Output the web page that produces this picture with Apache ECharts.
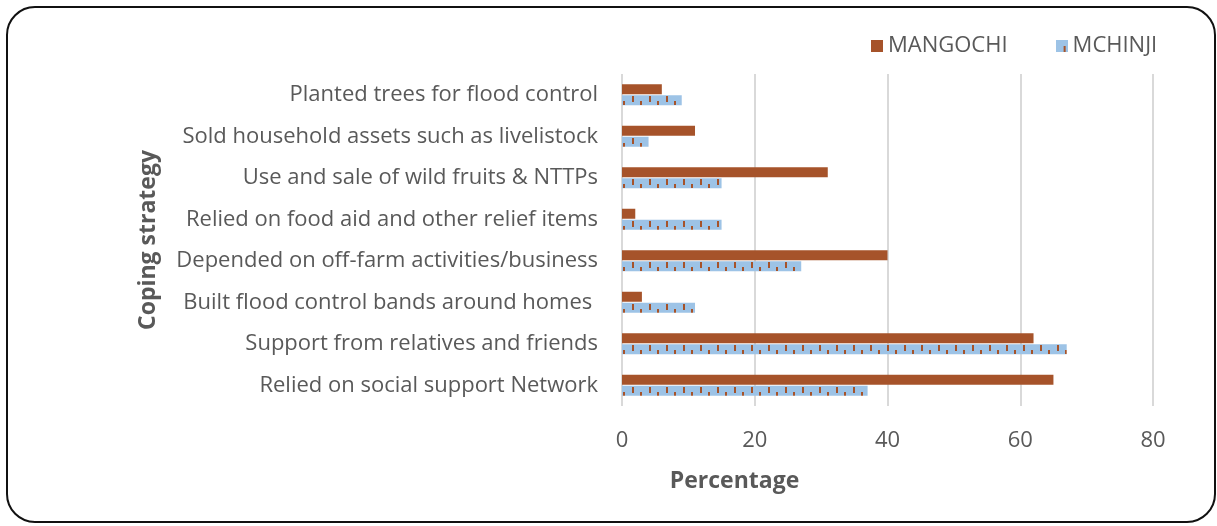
<!DOCTYPE html>
<html>
<head>
<meta charset="utf-8">
<script src="https://cdn.jsdelivr.net/npm/echarts@6/dist/echarts.min.js"></script>
<style>
  html, body { margin: 0; padding: 0; background: #ffffff; }
  #chart { width: 1217px; height: 526px; }
</style>
</head>
<body>
<div id="chart"></div>
<script>
// Coping strategies, listed top to bottom
const categories = [
  'Planted trees for flood control',
  'Sold household assets such as livelistock',
  'Use and sale of wild fruits & NTTPs',
  'Relied on food aid and other relief items',
  'Depended on off-farm activities/business',
  'Built flood control bands around homes ',
  'Support from relatives and friends',
  'Relied on social support Network'
];
const mangochi = [6, 11, 31, 2, 40, 3, 62, 65];
const mchinji = [9, 4, 15, 15, 27, 11, 67, 37];
const seriesNames = ['MANGOCHI', 'MCHINJI'];
const xTicks = { min: 0, max: 80, interval: 20 };

const BROWN = '#A6532A';
const BLUE = '#9DC3E6';
const TEXT = '#595959';
const FONT = '"Open Sans", "Noto Sans", sans-serif';

// Plot area geometry (8 rows of 41.5 px each)
const GRID_TOP = 74, ROW = 41.5, BAR_W = 10;

// Hatched fill for the MCHINJI bars: light blue with small brown dashes.
// The tile spans two rows so the dashes line up with every lower bar.
function makeHatch() {
  const c = document.createElement('canvas');
  c.width = 17; c.height = ROW * 2;
  const g = c.getContext('2d');
  g.fillStyle = BLUE;
  g.fillRect(0, 0, c.width, c.height);
  g.fillStyle = BROWN;
  for (let k = 0; k < 2; k++) {
    const center = GRID_TOP + ROW * (k + 0.5);
    const top = Math.round((center + 0.5) % c.height);
    g.fillRect(3, top + 1, 2, 6);
    g.fillRect(11, top + 6, 2, 4);
  }
  return c;
}
function makeLegendIcon() {
  const c = document.createElement('canvas');
  c.width = 12; c.height = 12;
  const g = c.getContext('2d');
  g.fillStyle = BLUE;
  g.fillRect(0, 0, 12, 12);
  g.fillStyle = BROWN;
  g.fillRect(8, 6, 2, 6);
  return c.toDataURL();
}

const chart = echarts.init(document.getElementById('chart'), null, { renderer: 'canvas' });
chart.setOption({
  backgroundColor: '#ffffff',
  animation: false,
  textStyle: { fontFamily: FONT },
  grid: { left: 622, right: 64, top: GRID_TOP, height: ROW * 8, containLabel: false },
  legend: {
    left: 866, top: 30,
    itemWidth: 12, itemHeight: 12, itemGap: 48,
    textStyle: { fontSize: 22, color: TEXT, fontFamily: FONT },
    data: [
      { name: seriesNames[0], icon: 'rect' },
      { name: seriesNames[1], icon: 'image://' + makeLegendIcon() }
    ]
  },
  xAxis: {
    type: 'value',
    min: xTicks.min, max: xTicks.max, interval: xTicks.interval,
    axisLine: { show: false },
    axisTick: { show: false },
    axisLabel: { fontSize: 22, color: TEXT, margin: 24, fontFamily: FONT },
    splitLine: { lineStyle: { color: '#D9D9D9', width: 2 } },
    name: 'Percentage',
    nameLocation: 'middle',
    nameGap: 64,
    nameTextStyle: { fontSize: 23, fontWeight: 'bold', color: TEXT, fontFamily: FONT, padding: [0, 306, 0, 0] }
  },
  yAxis: {
    type: 'category',
    inverse: true,
    data: categories,
    axisLine: { show: false },
    axisTick: { show: false },
    axisLabel: { fontSize: 22, color: TEXT, margin: 24, fontFamily: FONT },
    name: 'Coping strategy',
    nameLocation: 'middle',
    nameGap: 462,
    nameTextStyle: { fontSize: 23, fontWeight: 'bold', color: TEXT, fontFamily: FONT }
  },
  series: [
    {
      name: seriesNames[0], type: 'bar', data: mangochi,
      barWidth: BAR_W, barGap: '10%',
      itemStyle: { color: BROWN }
    },
    {
      name: seriesNames[1], type: 'bar', data: mchinji,
      barWidth: BAR_W, barGap: '10%',
      itemStyle: { color: { image: makeHatch(), repeat: 'repeat' } }
    }
  ],
  graphic: [{
    type: 'rect', silent: true, z: 100,
    shape: { x: 7, y: 7, width: 1208, height: 515, r: 28 },
    style: { fill: null, stroke: '#111111', lineWidth: 2 }
  }]
});
</script>
</body>
</html>
